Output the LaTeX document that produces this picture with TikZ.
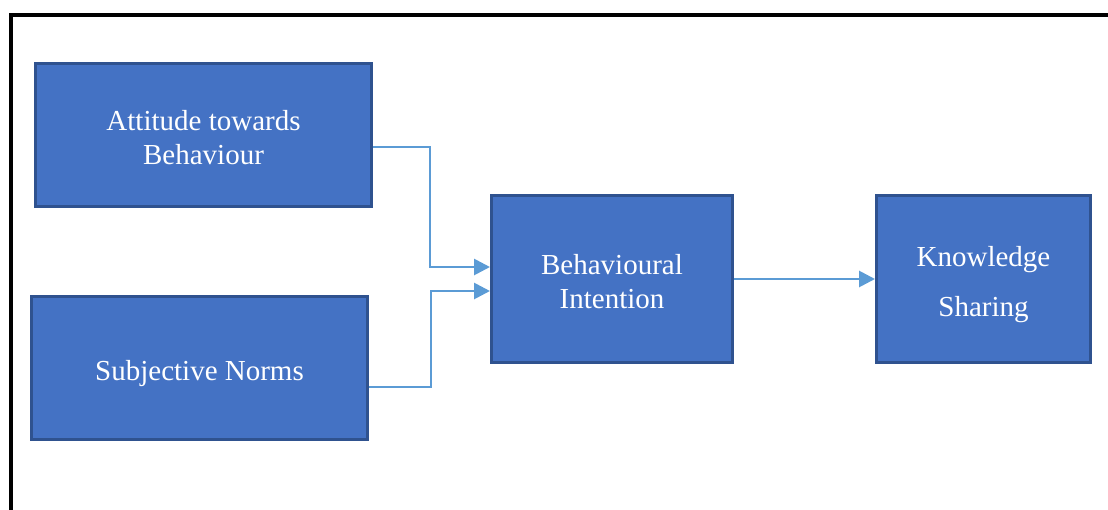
\documentclass[tikz,border=0pt]{standalone}
\usepackage{fontspec}
\setmainfont{Liberation Serif}
\usetikzlibrary{arrows.meta}
\definecolor{boxfill}{HTML}{4472C4}
\definecolor{boxline}{HTML}{2F528F}
\definecolor{linkcol}{HTML}{5B9BD5}

\begin{document}
\begin{tikzpicture}[x=1pt,y=-1pt,
  box/.style={draw=boxline, fill=boxfill, line width=3pt, inner sep=0pt},
  lbl/.style={text=white, align=center, inner sep=0pt, font=\fontsize{29}{34}\selectfont},
  link/.style={draw=linkcol, line width=2.8pt, -{Triangle[length=16pt,width=16pt]}}]
\useasboundingbox (0,0) rectangle (1108,509);
\draw[line width=4pt] (11,520) -- (11,15) -- (1120,15);
\node[box, minimum width=336pt, minimum height=143pt,
  label={[lbl,yshift=-3pt]center:{Attitude towards\\Behaviour}}](att) at (203.5,135){};
\node[box, minimum width=336pt, minimum height=143pt,
  label={[lbl,yshift=-6pt]center:{Subjective Norms}}](sn) at (199.5,368){};
\node[box, minimum width=241pt, minimum height=167pt,
  label={[lbl,yshift=-3pt]center:{Behavioural\\Intention}}](bi) at (612,279){};
\node[box, minimum width=214pt, minimum height=167pt,
  label={[lbl,yshift=-6pt,font=\fontsize{29}{50}\selectfont]center:{Knowledge\\Sharing}}](ks) at (983.5,279){};
\draw[link] ([yshift=-12pt]att.east) -- ++(57,0) |- ([yshift=12pt]bi.west);
\draw[link] ([yshift=-19pt]sn.east) -- ++(62,0) |- ([yshift=-12pt]bi.west);
\draw[link] (bi) -- (ks);
\end{tikzpicture}
\end{document}
